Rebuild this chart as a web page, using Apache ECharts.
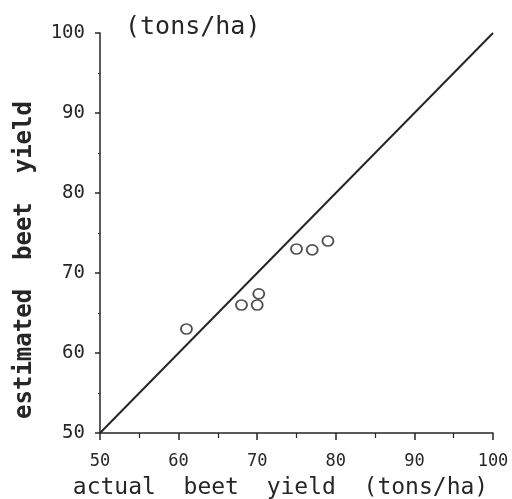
<!DOCTYPE html>
<html>
<head>
<meta charset="utf-8">
<script src="https://cdn.jsdelivr.net/npm/echarts@6/dist/echarts.min.js"></script>
<style>
  html, body { margin: 0; padding: 0; background: #fff; }
  #chart { width: 512px; height: 499px; }
</style>
</head>
<body>
<div id="chart"></div>
<script>
// Observed (actual) beet yield vs. model estimate, tons/ha
const actualYield = [61, 68, 70, 70.2, 75, 77, 79];
const estimatedYield = [63, 66, 66, 67.4, 73, 72.9, 74];
// 1:1 reference line endpoints
const oneToOne = [50, 100];

const points = actualYield.map((a, i) => [a, estimatedYield[i]]);
const ink = '#262626';
const font = 'DejaVu Sans Mono';

const chart = echarts.init(document.getElementById('chart'));
chart.setOption({
  animation: false,
  backgroundColor: '#fff',
  title: {
    text: '(tons/ha)',
    left: 120,
    top: 10,
    textStyle: { fontFamily: font, fontSize: 25, fontWeight: 'normal', color: ink }
  },
  grid: { left: 100, right: 19, top: 33, bottom: 66, outerBoundsMode: 'none', containLabel: false },
  xAxis: {
    type: 'value',
    min: 50, max: 100, interval: 10,
    name: 'actual  beet  yield  (tons/ha)',
    nameLocation: 'middle',
    nameGap: 44,
    nameTextStyle: { fontFamily: font, fontSize: 23, color: ink, padding: [0, 32, 0, 0] },
    axisLine: { onZero: false, lineStyle: { color: ink, width: 1.5 } },
    axisTick: { show: true, inside: false, length: 7, lineStyle: { color: ink, width: 1.5 } },
    minorTick: { show: true, splitNumber: 2, length: 5, lineStyle: { color: ink, width: 1.2 } },
    axisLabel: { fontFamily: font, fontSize: 17, color: ink, margin: 20 },
    splitLine: { show: false }
  },
  yAxis: {
    type: 'value',
    min: 50, max: 100, interval: 10,
    name: 'estimated  beet  yield',
    nameLocation: 'middle',
    nameGap: 63,
    nameTextStyle: { fontFamily: font, fontSize: 24, fontWeight: 'bold', color: ink, padding: [0, 54, 0, 0] },
    axisLine: { onZero: false, lineStyle: { color: ink, width: 1.5 } },
    axisTick: { show: true, inside: false, length: 5, lineStyle: { color: ink, width: 1.5 } },
    minorTick: { show: true, splitNumber: 2, length: 2, lineStyle: { color: ink, width: 1.2 } },
    axisLabel: { fontFamily: font, fontSize: 19, color: ink, margin: 15 },
    splitLine: { show: false }
  },
  series: [
    {
      type: 'line',
      data: [[oneToOne[0], oneToOne[0]], [oneToOne[1], oneToOne[1]]],
      showSymbol: false,
      lineStyle: { color: ink, width: 2 },
      silent: true
    },
    {
      type: 'scatter',
      data: points,
      symbol: 'circle',
      symbolSize: [11, 10],
      itemStyle: { color: 'transparent', borderColor: ink, borderWidth: 1.8 }
    }
  ]
});
</script>
</body>
</html>
